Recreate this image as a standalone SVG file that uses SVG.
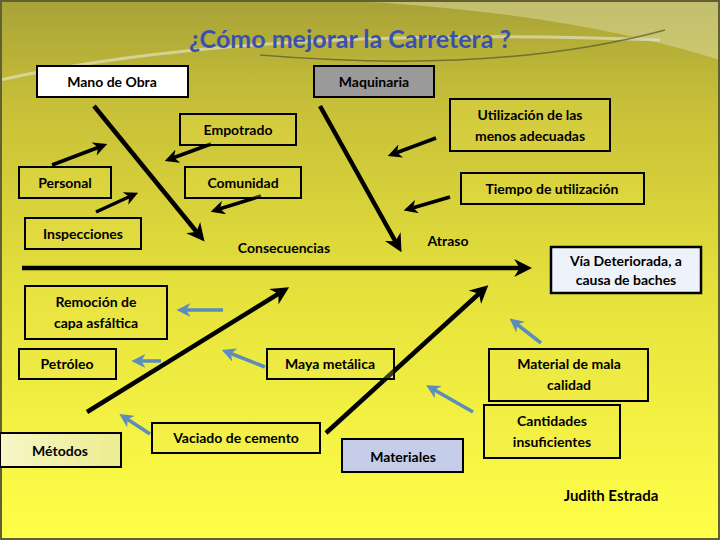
<svg xmlns="http://www.w3.org/2000/svg" width="720" height="540" viewBox="0 0 720 540">
<defs>
<linearGradient id="bg" x1="0" y1="0" x2="0" y2="1">
<stop offset="0" stop-color="#a8a238"/>
<stop offset="0.2" stop-color="#c8c038"/>
<stop offset="0.55" stop-color="#e6e23c"/>
<stop offset="1" stop-color="#ffff48"/>
</linearGradient>
<linearGradient id="met" x1="0" y1="0" x2="1" y2="0">
<stop offset="0" stop-color="#f6f6c8"/><stop offset="1" stop-color="#ecec90"/>
</linearGradient>
<marker id="ab" viewBox="0 0 10 10" refX="6" refY="5" markerWidth="4" markerHeight="4" orient="auto" markerUnits="strokeWidth"><path d="M0,0 L10,5 L0,10 L3,5 z" fill="#000"/></marker>
<marker id="as" viewBox="0 0 10 10" refX="6" refY="5" markerWidth="4" markerHeight="4" orient="auto" markerUnits="strokeWidth"><path d="M0,0 L10,5 L0,10 L3,5 z" fill="#000"/></marker>
<marker id="abl" viewBox="0 0 10 10" refX="6" refY="5" markerWidth="4" markerHeight="4" orient="auto" markerUnits="strokeWidth"><path d="M0,0 L10,5 L0,10 L3,5 z" fill="#5a8cbc"/></marker>
<style>
.b{stroke:#000;stroke-width:2;fill:#f0e850;fill-opacity:0.25}
.t{font-family:Lato,"Liberation Sans",sans-serif;font-size:15px;font-weight:bold;text-anchor:middle;fill:#000}
.n{font-family:Lato,"Liberation Sans",sans-serif;font-size:14px;font-weight:bold;text-anchor:middle;fill:#000}
.bone{stroke:#000;stroke-width:4.5;fill:none;marker-end:url(#ab)}
.sm{stroke:#000;stroke-width:3.5;fill:none;marker-end:url(#as)}
.bl{stroke:#5a8cbc;stroke-width:3.5;fill:none;marker-end:url(#abl)}
</style>
</defs>
<rect width="720" height="540" fill="url(#bg)"/>
<path d="M330,0 Q560,10 720,60 L720,0 z" fill="#e8e8c0" opacity="0.4"/>
<path d="M0,80 Q250,25 660,40" stroke="#e0e0c0" stroke-width="3" fill="none" opacity="0.7"/>
<path d="M260,55 Q500,75 665,30" stroke="#555530" stroke-width="1.5" fill="none" opacity="0.7"/>
<rect x="1" y="1" width="718" height="538" fill="none" stroke="#606030" stroke-width="2"/>
<text x="350" y="48" font-family="Lato,'Liberation Sans',sans-serif" font-size="25" font-weight="bold" fill="#3a50b0" text-anchor="middle">¿Cómo mejorar la Carretera ?</text>

<g id="connectors">
<line class="bone" x1="22" y1="268" x2="525" y2="268" stroke-width="6"/>
<line class="bone" x1="94" y1="106" x2="200" y2="236"/>
<line class="bone" x1="320" y1="106" x2="398" y2="246"/>
<line class="bone" x1="87" y1="412" x2="283" y2="291"/>
<line class="bone" x1="326" y1="433" x2="483" y2="290"/>
<line class="sm" x1="52" y1="165" x2="102" y2="146"/>
<line class="sm" x1="96" y1="212" x2="133" y2="195"/>
<line class="sm" x1="211" y1="144" x2="170" y2="159"/>
<line class="sm" x1="261" y1="196" x2="216" y2="210"/>
<line class="sm" x1="436" y1="138" x2="393" y2="154"/>
<line class="sm" x1="450" y1="197" x2="409" y2="209"/>
<line class="bl" x1="223" y1="310" x2="182" y2="310"/>
<line class="bl" x1="161" y1="361" x2="137" y2="361"/>
<line class="bl" x1="265" y1="367" x2="227" y2="352"/>
<line class="bl" x1="150" y1="434" x2="124" y2="417"/>
<line class="bl" x1="473" y1="412" x2="431" y2="388"/>
<line class="bl" x1="541" y1="343" x2="514" y2="322"/>
</g>

<g id="mano"><rect x="37" y="66" width="151" height="31" fill="#fff" stroke="#000" stroke-width="2"/><text class="n" x="112" y="87" font-size="16" font-weight="normal">Mano de Obra</text></g>
<g id="maquinaria"><rect x="314" y="66" width="120" height="31" fill="#9a9a9a" stroke="#000" stroke-width="2"/><text class="n" x="374" y="87" font-size="16" font-weight="normal">Maquinaria</text></g>
<g id="empotrado"><rect class="b" x="180" y="114" width="116" height="31"/><text class="n" x="238" y="135" font-weight="normal">Empotrado</text></g>
<g id="utilizacion"><rect class="b" x="450" y="99" width="160" height="52"/><text class="n" x="530" y="120">Utilización de las</text><text class="n" x="530" y="141">menos adecuadas</text></g>
<g id="personal"><rect class="b" x="19" y="167" width="92" height="31"/><text class="n" x="65" y="188" font-weight="normal">Personal</text></g>
<g id="comunidad"><rect class="b" x="185" y="167" width="116" height="31"/><text class="n" x="243" y="188" font-weight="normal">Comunidad</text></g>
<g id="tiempo"><rect class="b" x="461" y="173" width="183" height="31"/><text class="n" x="552" y="194">Tiempo de utilización</text></g>
<g id="inspecciones"><rect class="b" x="25" y="218" width="116" height="31"/><text class="n" x="83" y="239" font-weight="normal">Inspecciones</text></g>
<g id="consecuencias"><text class="n" x="284" y="253" font-weight="normal">Consecuencias</text></g>
<g id="atraso"><text class="n" x="448" y="246">Atraso</text></g>
<g id="via"><rect x="551" y="247" width="150" height="46" fill="#eef2fa" stroke="#000" stroke-width="2.5"/><text class="n" x="626" y="266" font-size="13" font-weight="normal">Vía Deteriorada,  a</text><text class="n" x="626" y="285" font-size="13" font-weight="normal">causa de baches</text></g>
<g id="remocion"><rect class="b" x="25" y="286" width="142" height="53"/><text class="n" x="96" y="307">Remoción de</text><text class="n" x="96" y="328">capa asfáltica</text></g>
<g id="petroleo"><rect class="b" x="19" y="349" width="97" height="30"/><text class="n" x="67" y="369">Petróleo</text></g>
<g id="maya"><rect class="b" x="267" y="349" width="127" height="30"/><text class="n" x="330" y="369">Maya metálica</text></g>
<g id="material"><rect class="b" x="489" y="349" width="159" height="52"/><text class="n" x="569" y="369">Material de mala</text><text class="n" x="569" y="390">calidad</text></g>
<g id="cantidades"><rect class="b" x="484" y="405" width="136" height="53"/><text class="n" x="552" y="426">Cantidades</text><text class="n" x="552" y="447">insuficientes</text></g>
<g id="vaciado"><rect class="b" x="152" y="423" width="168" height="30"/><text class="n" x="236" y="443">Vaciado de cemento</text></g>
<g id="metodos"><rect x="0" y="433" width="121" height="34" fill="url(#met)" stroke="#000" stroke-width="2"/><text class="n" x="60" y="456" font-size="17" font-weight="normal">Métodos</text></g>
<g id="materiales"><rect x="342" y="439" width="121" height="33" fill="#c5cde8" stroke="#000" stroke-width="2"/><text class="n" x="403" y="462" font-size="17" font-weight="normal">Materiales</text></g>
<text class="t" x="611" y="501" font-size="16">Judith Estrada</text>
</svg>
